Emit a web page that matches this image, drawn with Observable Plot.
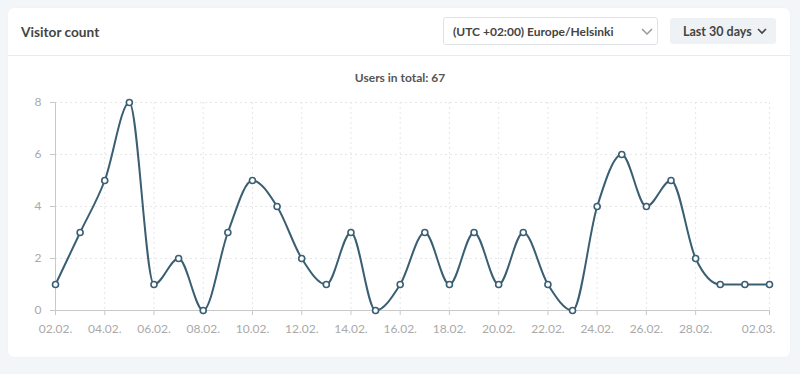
<!DOCTYPE html>
<html>
<head>
<meta charset="utf-8">
<script src="https://cdn.jsdelivr.net/npm/d3@7"></script>
<script src="https://cdn.jsdelivr.net/npm/@observablehq/plot@0.6"></script>
<style>
  html, body { margin: 0; padding: 0; }
  body { width: 800px; height: 374px; background: #f3f6f9; position: relative; overflow: hidden; font-family: Lato, "Open Sans", sans-serif; }
  #card { position: absolute; left: 8px; top: 8px; width: 782px; height: 349px; background: #fff; border-radius: 6px; box-shadow: 0 0 2px rgba(0,0,0,0.04); }
  #hdr { position: absolute; left: 8px; top: 55px; width: 782px; height: 1px; background: #e7ebee; }
  #title { position: absolute; left: 21px; top: 23px; font-size: 13.7px; font-weight: 700; color: #454545; }
  #tz { position: absolute; left: 443px; top: 17px; width: 215px; height: 28px; box-sizing: border-box; border: 1px solid #dfe3e7; border-radius: 3px; background: #fff; }
  #tz span { position: absolute; left: 9px; top: 6px; font-size: 12px; font-weight: 700; color: #444; }
  #range { position: absolute; left: 670px; top: 18px; width: 106px; height: 26px; border-radius: 3px; background: #eff2f5; }
  #range span { position: absolute; left: 13px; top: 6px; font-size: 12.5px; font-weight: 700; color: #444; }
  .chev { position: absolute; }
  #sub { position: absolute; left: 0; width: 800px; top: 70px; text-align: center; font-size: 12px; font-weight: 700; color: #555; }
  #chart { position: absolute; left: 0; top: 60px; }
</style>
</head>
<body>
<div id="card"></div>
<div id="hdr"></div>
<div id="title">Visitor count</div>
<div id="tz"><span>(UTC +02:00) Europe/Helsinki</span>
  <svg class="chev" style="left:197px;top:10px" width="12" height="8"><polyline points="1,1 6,6 11,1" fill="none" stroke="#999" stroke-width="1.5"/></svg>
</div>
<div id="range"><span>Last 30 days</span>
  <svg class="chev" style="left:87px;top:10px" width="10" height="7"><polyline points="1,1 5,5 9,1" fill="none" stroke="#444" stroke-width="1.6"/></svg>
</div>
<div id="sub"></div>
<div id="chart"></div>
<script>
const subtitle = "Users in total: 67";
const dates = ["2024-02-02","2024-02-03","2024-02-04","2024-02-05","2024-02-06","2024-02-07","2024-02-08","2024-02-09","2024-02-10","2024-02-11","2024-02-12","2024-02-13","2024-02-14","2024-02-15","2024-02-16","2024-02-17","2024-02-18","2024-02-19","2024-02-20","2024-02-21","2024-02-22","2024-02-23","2024-02-24","2024-02-25","2024-02-26","2024-02-27","2024-02-28","2024-02-29","2024-03-01","2024-03-02"];
const users = [1,3,5,8,1,2,0,3,5,4,2,1,3,0,1,3,1,3,1,3,1,0,4,6,4,5,2,1,1,1];
const yTicks = [0,2,4,6,8];
const xTickDates = ["2024-02-02","2024-02-04","2024-02-06","2024-02-08","2024-02-10","2024-02-12","2024-02-14","2024-02-16","2024-02-18","2024-02-20","2024-02-22","2024-02-24","2024-02-26","2024-02-28","2024-03-02"];

document.getElementById("sub").textContent = subtitle;

const data = dates.map((d, i) => ({date: new Date(d + "T00:00:00Z"), users: users[i]}));
const xTicks = xTickDates.map(d => new Date(d + "T00:00:00Z"));
const lastTick = xTicks[xTicks.length - 1];
const lineColor = "#3a5e72";
const axisColor = "#c9c9c9";
const textColor = "#a9a9a9";
const gridColor = "#e6e6e6";
const fmt = d3.utcFormat("%d.%m.");

const chart = Plot.plot({
  width: 800,
  height: 290,
  marginLeft: 55,
  marginRight: 31,
  marginTop: 42,
  marginBottom: 40,
  x: {type: "utc", domain: [data[0].date, data[data.length - 1].date]},
  y: {domain: [0, 8]},
  style: {fontFamily: "Lato, 'Open Sans', sans-serif", fontSize: "12px", background: "transparent", overflow: "visible"},
  marks: [
    Plot.ruleY(yTicks, {stroke: gridColor, strokeDasharray: "2,3"}),
    Plot.ruleX(xTicks, {stroke: gridColor, strokeDasharray: "2,3"}),
    Plot.ruleX([data[0].date], {stroke: axisColor}),
    Plot.ruleY([0], {stroke: axisColor}),
    Plot.axisY({ticks: yTicks, tickSize: 5, tickPadding: 9, stroke: axisColor, fill: textColor, label: null}),
    Plot.axisX({ticks: xTicks, tickSize: 5, tickPadding: 9, tickFormat: d => (+d === +lastTick ? "" : fmt(d)), stroke: axisColor, fill: textColor, label: null}),
    Plot.text([lastTick], {x: d => d, text: d => fmt(d), frameAnchor: "bottom", lineAnchor: "top", dy: 14, dx: -11, fill: textColor}),
    Plot.line(data, {x: "date", y: "users", curve: "monotone-x", stroke: lineColor, strokeWidth: 2}),
    Plot.dot(data, {x: "date", y: "users", r: 3, fill: "white", stroke: lineColor, strokeWidth: 1.6})
  ]
});
document.getElementById("chart").appendChild(chart);
</script>
</body>
</html>
